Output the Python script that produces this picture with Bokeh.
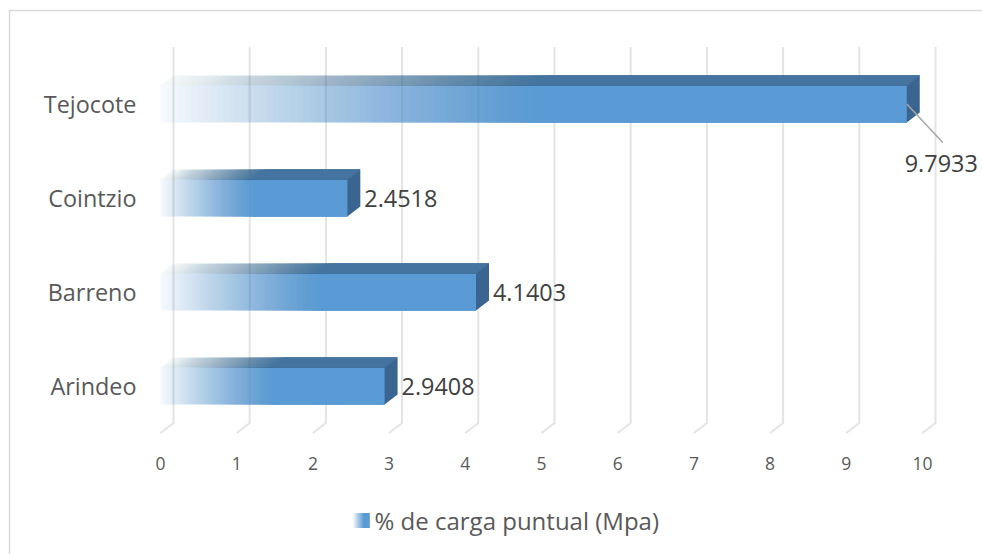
from bokeh.plotting import figure
from bokeh.models import Range1d
from bokeh.embed import file_html
from bokeh.resources import INLINE
from bokeh.core.properties import value

# ---------------- data ----------------
categories = ["Arindeo", "Barreno", "Cointzio", "Tejocote"]
values = [2.9408, 4.1403, 2.4518, 9.7933]
value_labels = ["2.9408", "4.1403", "2.4518", "9.7933"]
x_ticks = [0, 1, 2, 3, 4, 5, 6, 7, 8, 9, 10]
tick_labels = ["0", "1", "2", "3", "4", "5", "6", "7", "8", "9", "10"]
series_name = "% de carga puntual (Mpa)"

# ---------------- layout constants (pixels) ----------------
W, H = 982, 554
PX = 76.2      # pixels per x unit
PY = 94.0      # pixels per category
X0 = 160.0     # px of x = 0
Y0 = 385.5     # px (from top) of first category centre

def dx(px):
    return px / PX

def dy(px):
    return px / PY

DX, DY = dx(13), dy(10)          # 3D depth offset
HALF = dy(18.5)                  # half height of bar front face
FONT = value("Open Sans")
n = len(categories)

p = figure(width=W, height=H, output_backend="svg", toolbar_location=None,
           x_range=Range1d(-X0 / PX, (W - X0) / PX),
           y_range=Range1d((Y0 - H) / PY, Y0 / PY),
           min_border=0, outline_line_color=None,
           background_fill_color="white", border_fill_color="white")
p.axis.visible = False
p.grid.visible = False

# chart border (left and top visible)
xb = dx(9 - X0)
yt = dy(Y0 - 10)
p.line([xb, xb, (W - X0) / PX], [(Y0 - H) / PY, yt, yt], line_color="#D9D9D9", line_width=1.5)

# 3D gridlines: back wall verticals + floor diagonals
gx, gy = [], []
for k in x_ticks:
    gx.append([k, k + DX, k + DX])
    gy.append([-0.5, -0.5 + DY, n - 0.5 + DY])
p.multi_line(gx, gy, line_color="#E4E4E4", line_width=2)

# bars with gradient (cumulative-alpha slices)
N = 60
A_START = 0.06
fl, fr, ft, fb, fa = [], [], [], [], []
txs, tys, tas = [], [], []
sxs, sys = [], []
for i, v in enumerate(values):
    t, b = i + HALF, i - HALF
    L = 0.5 * v
    prev = 0.0
    for k in range(N + 1):
        s = k * L / N
        A = 1.0 if k == N else A_START + (1 - A_START) * k / N
        a = 1.0 - (1.0 - A) / (1.0 - prev) if prev < 1 else 0
        prev = A
        fl.append(s); fr.append(v); ft.append(t); fb.append(b); fa.append(a)
        txs.append([s, v, v + DX, s + DX]); tys.append([t, t, t + DY, t + DY]); tas.append(a)
    sxs.append([v, v + DX, v + DX, v]); sys.append([t, t + DY, b + DY, b])

p.quad(left=fl, right=fr, top=ft, bottom=fb, fill_color="#5B9BD5", fill_alpha=fa, line_color=None)
p.patches(txs, tys, fill_color="#44749F", fill_alpha=tas, line_color=None)
p.patches(sxs, sys, fill_color="#3A6590", line_color=None)

# data labels
x_max = (W - X0) / PX
lab_w = dx(75)
nx, ny, nt = [], [], []
for i, (v, lab) in enumerate(zip(values, value_labels)):
    if v + DX + dx(4) + lab_w > x_max:
        # label moved below-right with a leader line
        p.segment(x0=[v], y0=[i], x1=[v + dx(36)], y1=[i - dy(38.5)],
                  line_color="#A6A6A6", line_width=1.5)
        p.text(x=[v - dx(2)], y=[i - dy(59.5)], text=[lab], text_font=FONT,
               text_font_size="23.4px", text_color="#404040",
               text_align="left", text_baseline="middle")
    else:
        nx.append(v + DX + dx(4)); ny.append(i); nt.append(lab)
p.text(x=nx, y=ny, text=nt, text_font=FONT, text_font_size="23.4px",
       text_color="#404040", text_align="left", text_baseline="middle")

# category labels
p.text(x=[-dx(24)] * n, y=list(range(n)), text=categories, text_font=FONT,
       text_font_size="23.4px", text_color="#595959",
       text_align="right", text_baseline="middle")

# x tick labels
p.text(x=x_ticks, y=[-0.5 - dy(30)] * len(x_ticks), text=tick_labels, text_font=FONT,
       text_font_size="17.5px", text_color="#595959",
       text_align="center", text_baseline="middle")

# legend (gradient swatch + label)
ly = dy(Y0 - 520)  # legend centre row
lx0 = dx(353 - X0)
lw = dx(16)
M = 8
prev = 0.0
qx0, qa = [], []
for k in range(M + 1):
    A = 1.0 if k == M else 0.15 + 0.85 * k / M
    a = 1.0 - (1.0 - A) / (1.0 - prev) if prev < 1 else 0
    prev = A
    qx0.append(lx0 + k * (lw * 0.6) / M); qa.append(a)
p.quad(left=qx0, right=[lx0 + lw] * len(qx0), top=[ly + dy(7.5)] * len(qx0),
       bottom=[ly - dy(7.5)] * len(qx0), fill_color="#5B9BD5", fill_alpha=qa, line_color=None)
p.text(x=[dx(374 - X0)], y=[ly], text=[series_name], text_font=FONT,
       text_font_size="24px", text_color="#595959",
       text_align="left", text_baseline="middle")

open("out.html", "w").write(file_html(p, INLINE))
